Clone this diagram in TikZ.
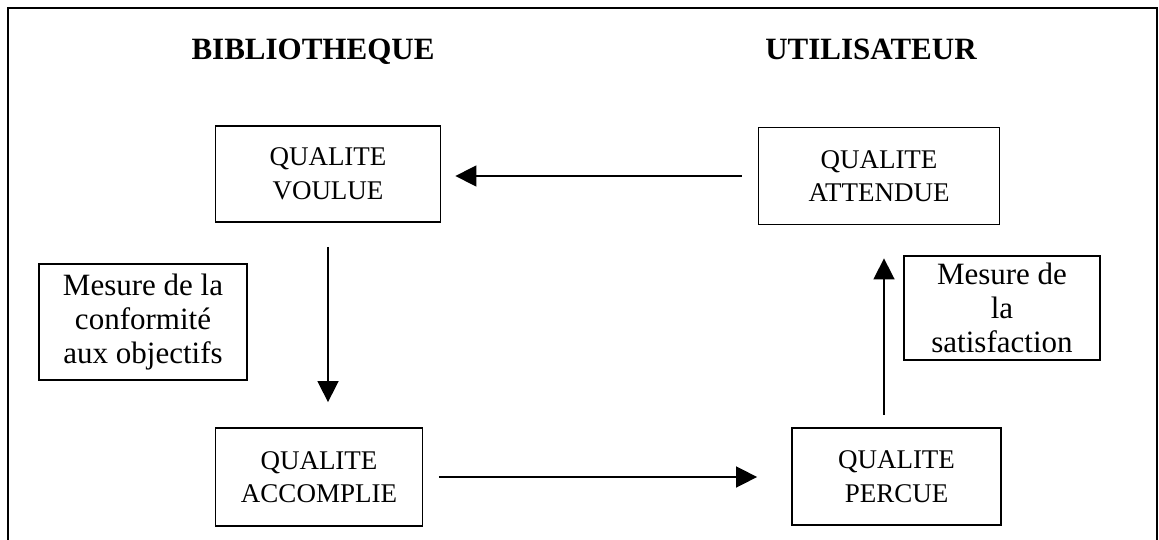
\documentclass[tikz,border=0pt]{standalone}
\usepackage{fontspec}
\setmainfont{Liberation Serif}
\usetikzlibrary{arrows.meta}
\tikzset{
  qbox/.style={draw, line width=1.8pt, align=center, inner sep=0pt,
    font=\fontsize{27}{33.5}\selectfont},
  mbox/.style={draw, line width=1.8pt, align=center, inner sep=0pt,
    font=\fontsize{31}{34}\selectfont},
  ttl/.style={anchor=base, inner sep=0pt, font=\fontsize{31}{36}\selectfont\bfseries},
  arr/.style={line width=1.6pt, -{Triangle[length=21pt,width=21pt]}},
  frame/.style={line width=2.5pt}
}
\begin{document}
\begin{tikzpicture}[x=1pt,y=-1pt]
\useasboundingbox (0,0) rectangle (1159,540);
\draw[frame] (8,560) -- (8,8) -- (1157,8) -- (1157,560);
\node[ttl] (bib) at (313,60) {BIBLIOTHEQUE};
\node[ttl] (uti) at (871,60) {UTILISATEUR};
\node[qbox, minimum width=225pt, minimum height=96pt] (voul) at (328,174) {QUALITE\\VOULUE};
\node[qbox, minimum width=241pt, minimum height=97pt] (att) at (879,176) {QUALITE\\ATTENDUE};
\node[qbox, minimum width=207pt, minimum height=98pt] (acc) at (319,477) {QUALITE\\ACCOMPLIE};
\node[qbox, minimum width=209pt, minimum height=97pt] (perc) at (896.5,476.5) {QUALITE\\PERCUE};
\node[mbox, minimum width=208pt, minimum height=116pt] (conf) at (143,322) {Mesure de la\\conformité\\aux objectifs};
\node[mbox, minimum width=196pt, minimum height=104pt] (sat) at (1002,308) {Mesure de\\la\\satisfaction};
\draw[arr, shorten <=16pt, shorten >=14pt] (att.west) -- (att.west -| voul.east);
\draw[arr, shorten <=24pt, shorten >=25pt] (voul.south) -- (voul.south |- acc.north);
\draw[arr, shorten <=15.5pt, shorten >=34pt] (acc.east) -- (acc.east -| perc.west);
\draw[arr, shorten <=12.5pt, shorten >=33pt] ([xshift=-12.5pt]perc.north) -- ([xshift=-12.5pt]perc.north |- att.south);
\end{tikzpicture}
\end{document}
